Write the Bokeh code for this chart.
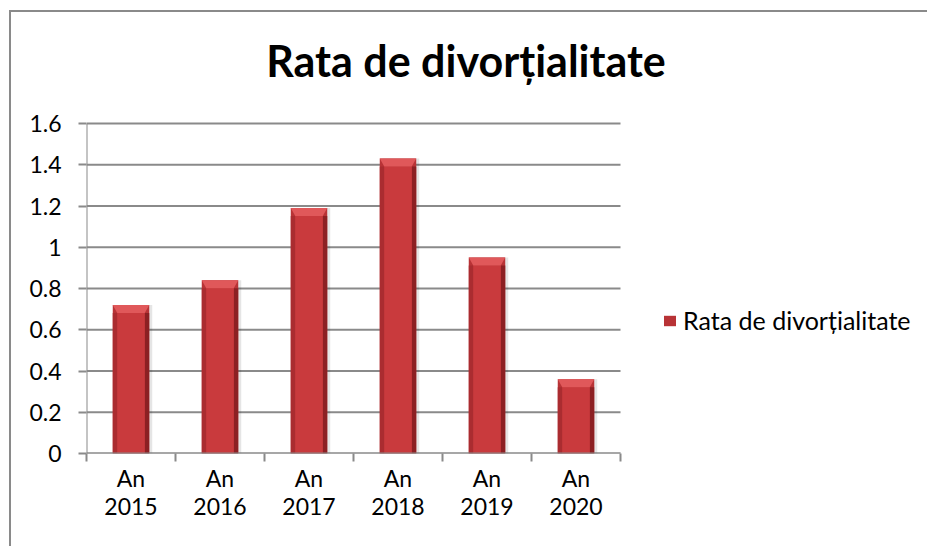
from bokeh.plotting import figure
from bokeh.models import Range1d, FixedTicker, Legend, LegendItem, ColumnDataSource
from bokeh.core.properties import value
from bokeh.embed import file_html
from bokeh.resources import INLINE

# ---- data ----
chart_title = "Rata de divorțialitate"
series_name = "Rata de divorțialitate"
years = ["2015", "2016", "2017", "2018", "2019", "2020"]
x_labels = ["An\n" + y for y in years]
values = [0.72, 0.84, 1.19, 1.43, 0.95, 0.36]
y_ticks = [0, 0.2, 0.4, 0.6, 0.8, 1.0, 1.2, 1.4, 1.6]
y_tick_labels = ["0", "0.2", "0.4", "0.6", "0.8", "1", "1.2", "1.4", "1.6"]

FONT = "Lato"
GRID = "#8a8a8a"
BORDER = "#8a8a8a"

# ---- layout (pixels) ----
FIG_W, FIG_H = 927, 546
PLOT_L, PLOT_T, PLOT_W, PLOT_H = 86, 123, 534, 330   # plot area of the chart
n = len(years)
y_max = y_ticks[-1]
# the frame extends to the right and top edges so title/legend are not clipped
frame_w = FIG_W - PLOT_L
frame_h = PLOT_T + PLOT_H
x_end = n * frame_w / PLOT_W
y_end = y_max * frame_h / PLOT_H
px_x = n / PLOT_W
px_y = y_max / PLOT_H

centers = [i + 0.5 for i in range(n)]
bar_w = 0.41
side = 4.5 * px_x
bevel_h = 8 * px_y

src = ColumnDataSource(dict(
    x=centers,
    top=values,
    left_x=[c - bar_w / 2 + side / 2 for c in centers],
    right_x=[c + bar_w / 2 - side / 2 for c in centers],
    face_top=[v - bevel_h for v in values],
    shadow_x=[c + 3 * px_x for c in centers],
    bev_xs=[[c - bar_w / 2, c + bar_w / 2, c + bar_w / 2 - side, c - bar_w / 2 + side] for c in centers],
    bev_ys=[[v, v, v - bevel_h, v - bevel_h] for v in values],
))

p = figure(width=FIG_W, height=FIG_H, output_backend="svg", toolbar_location=None,
           x_range=Range1d(0, x_end), y_range=Range1d(0, y_end),
           min_border_left=PLOT_L, min_border_right=0, min_border_top=0,
           min_border_bottom=FIG_H - PLOT_T - PLOT_H)
p.styles = {
    "background": (f"linear-gradient({BORDER},{BORDER}) 9px 10px / 2px calc(100% - 10px) no-repeat, "
                   f"linear-gradient({BORDER},{BORDER}) 9px 10px / calc(100% - 9px) 2px no-repeat, white"),
}
p.outline_line_color = None
p.background_fill_alpha = 0
p.border_fill_alpha = 0
p.xgrid.visible = False
p.ygrid.visible = False

# gridlines and value-axis line, limited to the plot area
p.segment(x0=[0] * len(y_ticks), x1=[n] * len(y_ticks), y0=y_ticks, y1=y_ticks,
          line_color=GRID, line_width=2)
p.segment(x0=[0], x1=[0], y0=[0], y1=[y_max], line_color=GRID, line_width=2)

# y axis
p.yaxis.ticker = FixedTicker(ticks=y_ticks)
p.yaxis.major_label_overrides = {t: l for t, l in zip(y_ticks, y_tick_labels)}
p.yaxis.axis_line_color = None
p.yaxis.major_tick_line_color = GRID
p.yaxis.major_tick_line_width = 2
p.yaxis.major_tick_out = 8
p.yaxis.major_tick_in = 0
p.yaxis.minor_tick_line_color = None
p.yaxis.major_label_standoff = 17
p.yaxis.major_label_text_font = FONT
p.yaxis.major_label_text_font_size = "23px"
p.yaxis.major_label_text_color = "black"

# x axis (ticks between categories, labels at category centres)
p.xaxis.ticker = FixedTicker(ticks=centers, minor_ticks=list(range(n + 1)))
p.xaxis.major_label_overrides = {c: l for c, l in zip(centers, x_labels)}
p.xaxis.axis_line_color = None
p.xaxis.major_tick_line_color = None
p.xaxis.major_tick_out = 8
p.xaxis.major_tick_in = 0
p.xaxis.minor_tick_line_color = GRID
p.xaxis.minor_tick_line_width = 2
p.xaxis.minor_tick_out = 8
p.xaxis.minor_tick_in = 0
p.xaxis.major_label_standoff = 2
p.xaxis.major_label_text_font = FONT
p.xaxis.major_label_text_font_size = "23px"
p.xaxis.major_label_text_color = "black"
p.xaxis.major_label_text_line_height = 1.02

# bars (layered to imitate the bevelled look)
p.vbar(x="shadow_x", top="top", width=bar_w, source=src, fill_color="black",
       fill_alpha=0.10, line_color=None)
base = p.vbar(x="x", top="top", width=bar_w, source=src, fill_color="#B83336",
              line_color=None)
p.vbar(x="left_x", top="face_top", width=side, source=src, fill_color="#AA2C30", line_color=None)
p.vbar(x="right_x", top="face_top", width=side, source=src, fill_color="#8C2023", line_color=None)
p.vbar(x="x", top="face_top", width=bar_w - 2 * side, source=src, fill_color="#C93A3D",
       line_color=None)
p.patches(xs="bev_xs", ys="bev_ys", source=src, fill_color="#E0585A", line_color=None)
p.segment(x0=[0], x1=[n], y0=[0], y1=[0], line_color=GRID, line_width=2)

# title
title_x = (465.5 - PLOT_L) * px_x
title_y = y_max + (PLOT_T - 60) * px_y
p.text(x=[title_x], y=[title_y], text=[chart_title], text_font=value(FONT),
       text_font_style="bold", text_font_size="43px", text_color="black",
       text_align="center", text_baseline="alphabetic")

legend = Legend(items=[LegendItem(label=series_name, renderers=[base])],
                location=(576, 118), margin=0, padding=0, spacing=0,
                border_line_color=None, background_fill_alpha=0,
                glyph_width=15, glyph_height=13, label_standoff=6, label_height=24,
                label_text_font=FONT, label_text_font_size="25px", label_text_color="black")
p.add_layout(legend, "center")

open("out.html", "w").write(file_html(p, INLINE))
